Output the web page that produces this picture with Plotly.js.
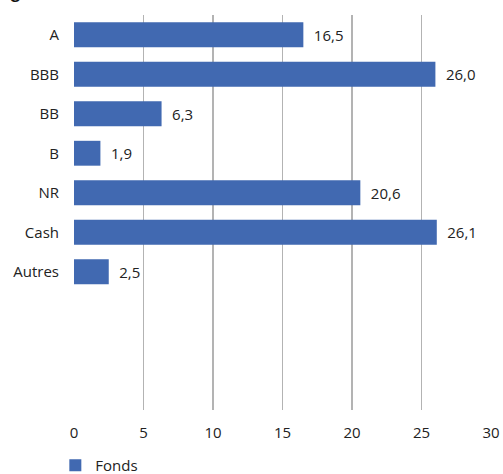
<!DOCTYPE html>
<html><head><meta charset="utf-8">
<script src="https://cdn.plot.ly/plotly-3.0.1.min.js"></script>
<style>html,body{margin:0;padding:0;background:#fff;}#c{width:503px;height:474px;}</style>
</head><body><div id="c"></div>
<script>
const categories = ["A", "BBB", "BB", "B", "NR", "Cash", "Autres"];
const fonds = [16.5, 26.0, 6.3, 1.9, 20.6, 26.1, 2.5];
const xTicks = [0, 5, 10, 15, 20, 25, 30];

const font = "'Open Sans', 'Noto Sans', sans-serif";
Plotly.newPlot("c", [{
  type: "bar", orientation: "h", name: "Fonds",
  y: categories, x: fonds,
  marker: {color: "#4169B1"},
  text: fonds, texttemplate: "\u2002%{x:.1f}", textposition: "outside",
  textfont: {family: font, size: 15, color: "#222"},
  cliponaxis: false, showlegend: true
}], {
  width: 503, height: 474,
  margin: {l: 74, r: 12, t: 15, b: 64},
  separators: ", ",
  paper_bgcolor: "#fff", plot_bgcolor: "#fff",
  font: {family: font, size: 15, color: "#222"},
  bargap: 0.37,
  xaxis: {range: [0, 30], tickvals: xTicks, showgrid: true, gridcolor: "#b3b3b3", gridwidth: 1.5,
          zeroline: false, showline: false, ticks: "", ticklabelstandoff: 12, tickfont: {size: 15}},
  yaxis: {type: "category", categoryarray: categories, range: [9.5, -0.5], showgrid: false,
          zeroline: false, showline: false, ticks: "", ticklabelstandoff: 14, tickfont: {size: 15}},
  legend: {orientation: "h", xref: "container", yref: "container", x: 0.11, xanchor: "left", y: 0.018, yanchor: "middle", font: {size: 15}},
  annotations: [{text: "<b>g (%)</b>", xref: "paper", yref: "paper", x: -0.155, y: 1.025, xanchor: "left", yanchor: "bottom", showarrow: false, font: {size: 16, color: "#111"}}]
}, {staticPlot: true});
</script></body></html>
